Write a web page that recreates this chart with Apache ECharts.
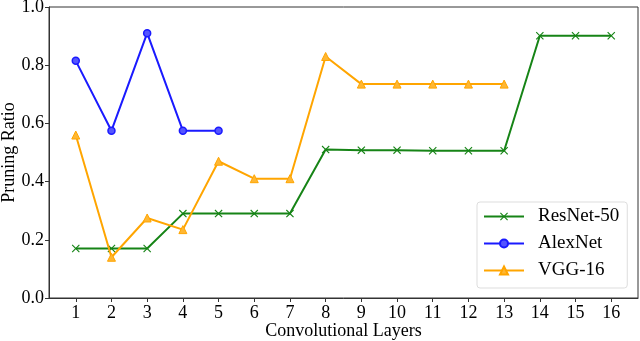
<!DOCTYPE html>
<html>
<head>
<meta charset="utf-8">
<script src="https://cdn.jsdelivr.net/npm/echarts@6/dist/echarts.min.js"></script>
<style>
  html, body { margin: 0; padding: 0; background: #fff; }
  #chart { width: 640px; height: 341px; }
</style>
</head>
<body>
<div id="chart"></div>
<script>
// layer index and pruning ratios
const layers = [1, 2, 3, 4, 5, 6, 7, 8, 9, 10, 11, 12, 13, 14, 15, 16];
const resnet50 = [0.17, 0.17, 0.17, 0.29, 0.29, 0.29, 0.29, 0.51, 0.508, 0.508, 0.506, 0.506, 0.506, 0.901, 0.901, 0.901];
const alexnet = [0.815, 0.575, 0.91, 0.575, 0.575];
const vgg16 = [0.56, 0.14, 0.275, 0.235, 0.47, 0.41, 0.41, 0.83, 0.735, 0.735, 0.735, 0.735, 0.735];
const yTicks = [0, 0.2, 0.4, 0.6, 0.8, 1.0];

const font = "Liberation Serif";
const xMark = "path://M1,0L5,4L9,0L10,1L6,5L10,9L9,10L5,6L1,10L0,9L4,5L0,1Z";

function pairs(vals) {
  return vals.map((v, i) => [layers[i], v]);
}

var myChart = echarts.init(document.getElementById("chart"));

var option = {
  animation: false,
  grid: {
    left: 49,
    right: 2,
    top: 7,
    bottom: 43,
    outerBoundsMode: "none",
    show: true,
    borderColor: "#333",
    borderWidth: 1,
  },
  xAxis: {
    type: "value",
    min: 0.25,
    max: 16.75,
    name: "Convolutional Layers",
    nameLocation: "middle",
    nameGap: 24,
    nameMoveOverlap: false,
    nameTextStyle: { fontFamily: font, fontSize: 18, color: "#000" },
    axisLine: { show: true, lineStyle: { color: "#333" } },
    axisTick: { show: true, customValues: layers, length: 4, lineStyle: { color: "#333" } },
    axisLabel: {
      customValues: layers,
      fontFamily: font,
      fontSize: 18,
      color: "#000",
      margin: 6,
    },
    splitLine: { show: false },
  },
  yAxis: {
    type: "value",
    min: 0,
    max: 1,
    name: "Pruning Ratio",
    nameLocation: "middle",
    nameGap: 31,
    nameMoveOverlap: false,
    nameTextStyle: { fontFamily: font, fontSize: 18, color: "#000" },
    axisLine: { show: true, lineStyle: { color: "#333" } },
    axisTick: { show: true, customValues: yTicks, length: 4, lineStyle: { color: "#333" } },
    axisLabel: {
      customValues: yTicks,
      formatter: (v) => v.toFixed(1),
      fontFamily: font,
      fontSize: 18,
      color: "#000",
      margin: 5,
    },
    splitLine: { show: false },
  },
  legend: {
    orient: "vertical",
    left: 477,
    top: 202,
    padding: [5, 8, 8, 6],
    itemWidth: 40,
    itemHeight: 10,
    itemGap: 8,
    borderColor: "#ddd",
    borderWidth: 1,
    borderRadius: 3,
    textStyle: { fontFamily: font, fontSize: 19, color: "#000", padding: [0, 0, 0, 9] },
    data: ["ResNet-50", "AlexNet", "VGG-16"],
  },
  series: [
    {
      name: "ResNet-50",
      type: "line",
      data: pairs(resnet50),
      symbol: xMark,
      symbolSize: 8,
      lineStyle: { color: "#168416", width: 2 },
      itemStyle: { color: "#168416" },
      z: 3,
    },
    {
      name: "AlexNet",
      type: "line",
      data: pairs(alexnet),
      symbol: "circle",
      symbolSize: 7,
      lineStyle: { color: "#1a1aff", width: 2 },
      itemStyle: { color: "#5555ff", borderColor: "#1a1aff", borderWidth: 1.5 },
      z: 4,
    },
    {
      name: "VGG-16",
      type: "line",
      data: pairs(vgg16),
      symbol: "triangle",
      symbolSize: 8,
      lineStyle: { color: "#ffa500", width: 2 },
      itemStyle: { color: "#ffb733", borderColor: "#ffa500", borderWidth: 1 },
      z: 5,
    },
  ],
};

myChart.setOption(option);
</script>
</body>
</html>
